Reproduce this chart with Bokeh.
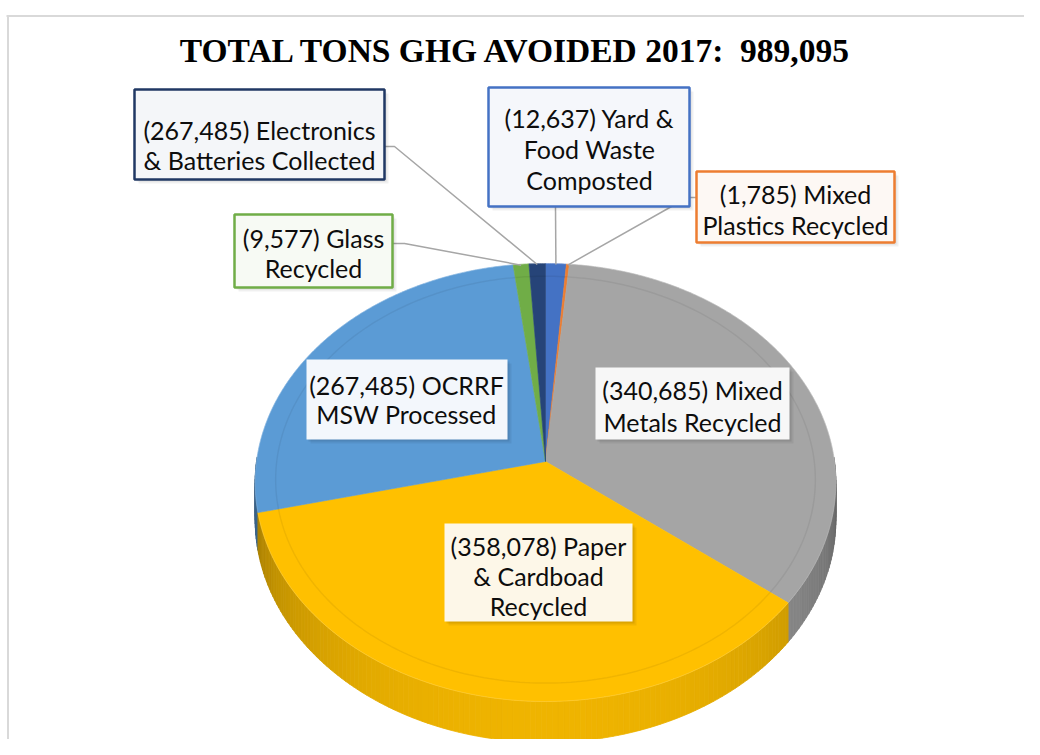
import math
from bokeh.plotting import figure
from bokeh.models import Range1d
from bokeh.core.properties import value
from bokeh.embed import file_html
from bokeh.resources import INLINE

# ---------------- data ----------------
title_text = "TOTAL TONS GHG AVOIDED 2017: \u00a0989,095"
categories = ["Yard & Food Waste Composted", "Mixed Plastics Recycled", "Mixed Metals Recycled",
              "Paper & Cardboad Recycled", "OCRRF MSW Processed", "Glass Recycled",
              "Electronics & Batteries Collected"]
# slice sizes (tons); electronics slice size (~1% of pie)
tons = [12637, 1785, 340685, 358078, 267485, 9577, 10000]
label_lines = [
    ["(12,637) Yard &", "Food Waste", "Composted"],
    ["(1,785) Mixed", "Plastics Recycled"],
    ["(340,685) Mixed", "Metals Recycled"],
    ["(358,078) Paper", "& Cardboad", "Recycled"],
    ["(267,485) OCRRF", "MSW Processed"],
    ["(9,577) Glass", "Recycled"],
    ["(267,485) Electronics", "& Batteries Collected"],
]
colors = ["#4472C4", "#ED7D31", "#A5A5A5", "#FFC000", "#5B9BD5", "#70AD47", "#264478"]

# ---------------- layout ----------------
CX, VY, TOPY, BOTY, A, D = 546.0, 462.0, 264.0, 702.0, 289.0, 37.0
R = (2 * VY - TOPY - BOTY) / (TOPY - BOTY)
Q = TOPY * (1 + R) - VY

def proj(theta, rf=1.0, drop=0.0):
    u = rf * math.sin(theta)
    v = rf * math.cos(theta)
    w = 1 + R * v
    return CX + A * u / w, (VY + Q * v + drop) / w

# label boxes: (left, top, right, bottom), border color, fill, text center x, line ys, leader start points
label_layout = [
    dict(box=(489, 88, 690, 207), border="#4472C4", fill="#f5f7fb", tx=590, ys=[118, 149, 180], lead=[(556, 207)]),
    dict(box=(697, 172, 895, 243), border="#ED7D31", fill="#fdf8f4", tx=796, ys=[194, 225], lead=[(697, 198), (688, 198)]),
    dict(box=(596, 368, 790, 440), border=None, fill="#f7f7f7", tx=693, ys=[390, 422], lead=None),
    dict(box=(445, 524, 633, 622), border=None, fill="#fdf7e8", tx=539, ys=[546, 576, 606], lead=None),
    dict(box=(307, 360, 508, 440), border=None, fill="#f3f7fc", tx=407, ys=[385, 414], lead=None),
    dict(box=(235, 215, 393, 288), border="#70AD47", fill="#f7faf4", tx=314, ys=[238, 268], lead=[(393, 244), (405, 244)]),
    dict(box=(135, 90, 385, 180), border="#203864", fill="#f4f6f9", tx=260, ys=[130, 160], lead=[(385, 147), (395, 147)]),
]

def shade(hexcol, f):
    h = hexcol.lstrip("#")
    r, g, b = (int(h[i:i + 2], 16) for i in (0, 2, 4))
    return "#%02x%02x%02x" % (min(255, int(r * f)), min(255, int(g * f)), min(255, int(b * f)))

OFF = 1
p = figure(width=1024, height=739, x_range=Range1d(OFF, OFF + 1024), y_range=Range1d(OFF + 739, OFF),
           output_backend="svg", toolbar_location=None, min_border=0,
           x_axis_type=None, y_axis_type=None)
p.grid.visible = False
p.outline_line_color = None
p.background_fill_color = "white"
p.border_fill_color = "white"

# chart frame (top and left edges visible)
p.line([7, 1040], [16.5, 16.5], line_color="#d9d9d9", line_width=2)
p.line([8.5, 8.5], [16, 755], line_color="#d9d9d9", line_width=2)

total = sum(tons)
angles = []
acc = 0.0
for t in tons:
    a0 = acc / total * 2 * math.pi
    acc += t
    a1 = acc / total * 2 * math.pi
    angles.append((a0, a1))

# ---- side walls (front half) ----
segs = []
for (a0, a1), col in zip(angles, colors):
    lo, hi = max(a0, math.pi / 2 - 0.02), min(a1, 3 * math.pi / 2 + 0.02)
    if hi <= lo:
        continue
    n = max(2, int((hi - lo) / math.radians(1.0)) + 1)
    for i in range(n):
        t0 = lo + (hi - lo) * i / n
        t1 = lo + (hi - lo) * (i + 1) / n
        tm = 0.5 * (t0 + t1)
        v = math.cos(tm)
        f = 0.52 + 0.42 * (max(0.0, -v) ** 0.7)
        x0, y0 = proj(t0)
        x1, y1 = proj(t1)
        x2, y2 = proj(t1, drop=D)
        x3, y3 = proj(t0, drop=D)
        segs.append((v, [x0, x1, x2, x3], [y0, y1, y2, y3], shade(col, f)))
segs.sort(key=lambda s: -s[0])
p.patches([s[1] for s in segs], [s[2] for s in segs], fill_color=[s[3] for s in segs],
          line_color=[s[3] for s in segs], line_width=0.8)

# ---- top faces ----
xs_list, ys_list = [], []
for (a0, a1) in angles:
    n = max(2, int((a1 - a0) / math.radians(0.5)) + 1)
    xs, ys = [CX], [VY]
    for i in range(n + 1):
        x, y = proj(a0 + (a1 - a0) * i / n)
        xs.append(x)
        ys.append(y)
    xs_list.append(xs)
    ys_list.append(ys)
p.patches(xs_list, ys_list, fill_color=colors, line_color=colors, line_width=0.6)

# subtle bevel ring on the top surface
ring = [proj(2 * math.pi * i / 360, rf=0.93) for i in range(361)]
p.line([r[0] for r in ring], [r[1] for r in ring], line_color="black", line_alpha=0.06, line_width=1.5)
rim = [proj(2 * math.pi * i / 360) for i in range(361)]
p.line([r[0] for r in rim], [r[1] for r in rim], line_color="white", line_alpha=0.15, line_width=1)

# ---- leader lines ----
for (a0, a1), lay in zip(angles, label_layout):
    if not lay["lead"]:
        continue
    ex, ey = proj(0.5 * (a0 + a1), rf=0.995)
    pts = lay["lead"] + [(ex, ey)]
    p.line([q[0] for q in pts], [q[1] for q in pts], line_color="#a6a6a6", line_width=1.5)

# ---- label boxes ----
for lines, lay in zip(label_lines, label_layout):
    l, t, r, b = lay["box"]
    p.quad(left=l + 4, right=r + 4, top=t + 4, bottom=b + 4, fill_color="black", fill_alpha=0.06, line_color=None)
    p.quad(left=l + 2, right=r + 2, top=t + 2, bottom=b + 2, fill_color="black", fill_alpha=0.08, line_color=None)
    p.quad(left=l, right=r, top=t, bottom=b, fill_color=lay["fill"],
           line_color=lay["border"] if lay["border"] else None, line_width=2.5)
    p.text(x=[lay["tx"]] * len(lines), y=lay["ys"], text=lines, text_align="center", text_baseline="middle",
           text_font=value("Lato"), text_font_size="25px", text_color="#0d0d0d")

# ---- title ----
p.text(x=[517], y=[51], text=[title_text], text_align="center", text_baseline="middle",
       text_font=value("Liberation Serif"), text_font_style="bold", text_font_size="33.5px", text_color="black")

open("out.html", "w").write(file_html(p, INLINE))
